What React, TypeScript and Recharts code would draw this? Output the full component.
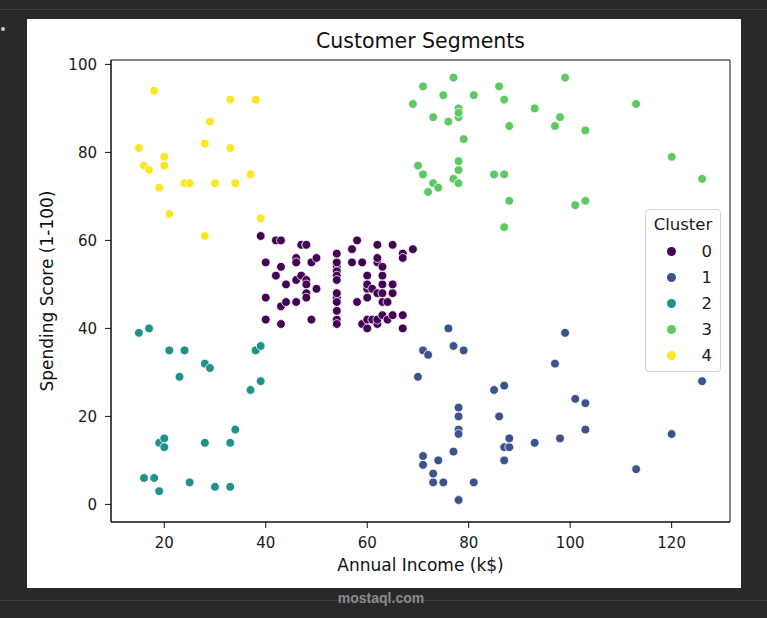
import { Legend, ReferenceArea, Scatter, ScatterChart, XAxis, YAxis } from 'recharts';

const FONT = '"DejaVu Sans", sans-serif';

export const clusterNames = ['0', '1', '2', '3', '4'];
export const clusterColors = ['#440154', '#3b528b', '#21918c', '#5ec962', '#fde725'];

export const xTicks = [20, 40, 60, 80, 100, 120];
export const yTicks = [0, 20, 40, 60, 80, 100];
const xDomain: [number, number] = [9.5, 131.5];
const yDomain: [number, number] = [-4, 101];

// cluster 0: mid income, mid spending
export const income0 = [39, 40, 40, 40, 40, 42, 42, 43, 43, 43, 43, 44, 44, 46, 46, 46, 46, 47, 47, 48, 48, 48, 48, 48, 48, 49, 49, 50, 50, 54, 54, 54, 54, 54, 54, 54, 54, 54, 54, 54, 54, 57, 57, 58, 58, 59, 59, 60, 60, 60, 60, 60, 60, 61, 61, 62, 62, 62, 62, 62, 62, 63, 63, 63, 63, 63, 63, 64, 64, 65, 65, 65, 65, 67, 67, 67, 67, 69];
export const score0 = [61, 55, 47, 42, 42, 52, 60, 54, 60, 45, 41, 50, 46, 51, 46, 56, 55, 52, 59, 51, 59, 50, 48, 59, 47, 55, 42, 49, 56, 47, 54, 53, 48, 52, 42, 51, 55, 41, 44, 57, 46, 58, 55, 60, 46, 55, 41, 49, 40, 42, 52, 47, 50, 42, 49, 41, 48, 59, 55, 56, 42, 50, 46, 43, 48, 52, 54, 42, 46, 48, 50, 43, 59, 43, 57, 56, 40, 58];

// cluster 1: high income, low spending
export const income1 = [70, 71, 71, 71, 72, 73, 73, 74, 75, 76, 77, 77, 78, 78, 78, 78, 78, 78, 79, 81, 85, 86, 87, 87, 87, 88, 88, 93, 97, 98, 99, 101, 103, 103, 113, 120, 126];
export const score1 = [29, 35, 11, 9, 34, 5, 7, 10, 5, 40, 12, 36, 22, 17, 20, 16, 1, 1, 35, 5, 26, 20, 27, 13, 10, 13, 15, 14, 32, 15, 39, 24, 17, 23, 8, 16, 28];

// cluster 2: low income, low spending
export const income2 = [15, 16, 17, 18, 19, 19, 20, 20, 21, 23, 24, 25, 28, 28, 29, 30, 33, 33, 34, 37, 38, 39, 39];
export const score2 = [39, 6, 40, 6, 3, 14, 15, 13, 35, 29, 35, 5, 14, 32, 31, 4, 4, 14, 17, 26, 35, 36, 28];

// cluster 3: high income, high spending
export const income3 = [69, 70, 71, 71, 71, 72, 73, 73, 74, 75, 76, 77, 77, 78, 78, 78, 78, 78, 78, 79, 81, 85, 86, 87, 87, 87, 88, 88, 93, 97, 98, 99, 101, 103, 103, 113, 120, 126];
export const score3 = [91, 77, 95, 75, 75, 71, 88, 73, 72, 93, 87, 97, 74, 90, 88, 76, 89, 78, 73, 83, 93, 75, 95, 63, 75, 92, 86, 69, 90, 86, 88, 97, 68, 85, 69, 91, 79, 74];

// cluster 4: low income, high spending
export const income4 = [15, 16, 17, 18, 19, 20, 20, 21, 24, 25, 28, 28, 29, 30, 33, 33, 34, 37, 38, 39];
export const score4 = [81, 77, 76, 94, 72, 77, 79, 66, 73, 73, 82, 61, 87, 73, 92, 81, 73, 75, 92, 65];

const incomes = [income0, income1, income2, income3, income4];
const scores = [score0, score1, score2, score3, score4];

const series = clusterNames.map((name, k) => ({
  name,
  color: clusterColors[k],
  points: incomes[k].map((income, i) => ({ income, score: scores[k][i] })),
}));

function Dot(props: any) {
  const { cx, cy, fill } = props;
  if (cx == null || cy == null) return null;
  return <circle cx={cx} cy={cy} r={4.4} fill={fill} stroke="#ffffff" strokeWidth={0.8} />;
}

function ClusterLegend() {
  return (
    <div
      style={{
        boxSizing: 'border-box',
        width: 76,
        height: 163,
        border: '1px solid #d4d4d4',
        borderRadius: 4,
        background: 'rgba(255,255,255,0.85)',
        fontFamily: FONT,
        fontSize: 16.5,
        color: '#1a1a1a',
        paddingTop: 2,
      }}
    >
      <div style={{ height: 26, lineHeight: '26px', textAlign: 'center' }}>Cluster</div>
      <div style={{ marginTop: 1 }}>
        {series.map((s) => (
          <div key={s.name} style={{ height: 25.8, display: 'flex', alignItems: 'center' }}>
            <span
              style={{
                display: 'inline-block',
                width: 9,
                height: 9,
                borderRadius: '50%',
                background: s.color,
                marginLeft: 21,
              }}
            />
            <span style={{ flex: 1, textAlign: 'right', paddingRight: 8 }}>{s.name}</span>
          </div>
        ))}
      </div>
    </div>
  );
}

export default function App() {
  const tickStyle = { fill: '#1a1a1a', fontSize: 15, fontFamily: FONT };
  return (
    <div style={{ position: 'absolute', left: 0, top: 0, width: 767, height: 618, background: '#28292b', overflow: 'hidden' }}>
      <div style={{ position: 'absolute', left: 0, top: 9, width: 767, height: 1, background: '#3d3e41' }} />
      <div style={{ position: 'absolute', left: 0, top: 600, width: 767, height: 1, background: '#3d3e41' }} />
      <div style={{ position: 'absolute', left: 1, top: 27, width: 4, height: 4, borderRadius: '50%', background: '#cfcfcf' }} />

      <div style={{ position: 'absolute', left: 27, top: 19, width: 714, height: 569, background: '#ffffff' }}>
        <div
          style={{
            position: 'absolute',
            left: 84,
            width: 619,
            top: 11.5,
            textAlign: 'center',
            fontFamily: FONT,
            fontSize: 20.5,
            lineHeight: 1,
            color: '#111',
          }}
        >
          Customer Segments
        </div>
        <ScatterChart width={714} height={569} margin={{ top: 41, right: 11, left: 24, bottom: 26 }}>
          <XAxis
            dataKey="income"
            type="number"
            domain={xDomain}
            ticks={xTicks}
            allowDataOverflow
            height={40}
            tickSize={6}
            tickMargin={9}
            stroke="#111"
            tick={tickStyle}
            label={{ value: 'Annual Income (k$)', position: 'bottom', offset: -3, fill: '#111', fontSize: 17, fontFamily: FONT }}
          />
          <YAxis
            dataKey="score"
            type="number"
            domain={yDomain}
            ticks={yTicks}
            allowDataOverflow
            width={60}
            tickSize={6}
            tickMargin={8}
            stroke="#111"
            tick={tickStyle}
            label={{
              value: 'Spending Score (1-100)',
              angle: -90,
              position: 'insideLeft',
              offset: -4.5,
              fill: '#111',
              fontSize: 17,
              fontFamily: FONT,
              style: { textAnchor: 'middle' },
            }}
          />
          {/* frame: matplotlib draws all four spines */}
          <ReferenceArea
            x1={xDomain[0]}
            x2={xDomain[1]}
            y1={yDomain[0]}
            y2={yDomain[1]}
            fill="none"
            fillOpacity={0}
            stroke="#111"
            strokeWidth={1}
            ifOverflow="visible"
          />
          {series.map((s) => (
            <Scatter key={s.name} name={s.name} data={s.points} fill={s.color} shape={<Dot />} isAnimationActive={false} />
          ))}
          <Legend
            layout="vertical"
            align="center"
            verticalAlign="middle"
            content={() => <ClusterLegend />}
            wrapperStyle={{ left: 618, top: 190, width: 76 }}
          />
        </ScatterChart>
      </div>

      <div style={{ position: 'absolute', left: 300, width: 162, top: 590, textAlign: 'center', fontFamily: '"Liberation Sans", sans-serif', fontSize: 14, fontWeight: 700, color: '#8a8a8a' }}>
        mostaql.com
      </div>
    </div>
  );
}
